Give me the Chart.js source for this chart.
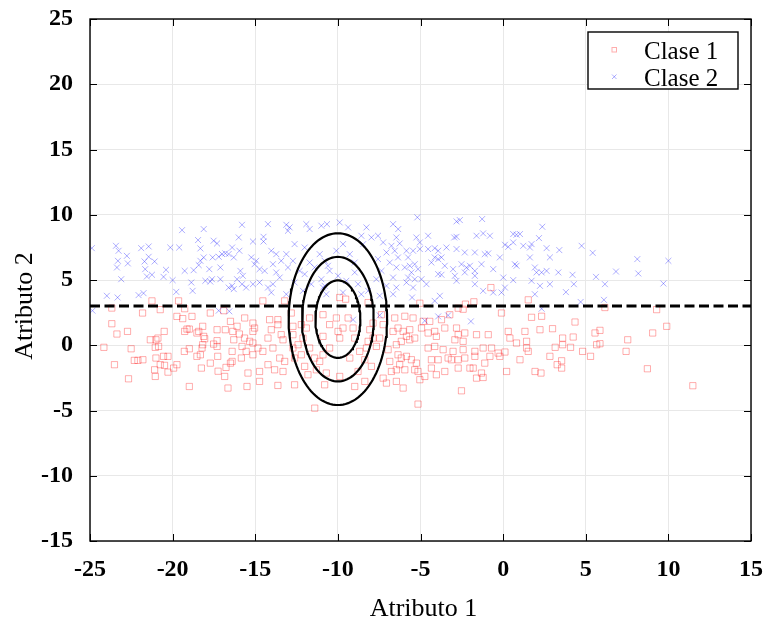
<!DOCTYPE html>
<html><head><meta charset="utf-8">
<script src="https://cdn.jsdelivr.net/npm/chart.js@4/dist/chart.umd.min.js"></script>
<style>html,body{margin:0;padding:0;background:#fff}#wrap{width:768px;height:623px}</style>
</head><body><div id="wrap"><canvas id="c" width="768" height="623"></canvas></div>
<script>
const seriesNames = ['Clase 1', 'Clase 2'];
const axisTitles = ['Atributo 1', 'Atributo 2'];
const xTicks = [-25, -20, -15, -10, -5, 0, 5, 10, 15];
const yTicks = [-15, -10, -5, 0, 5, 10, 15, 20, 25];
const thresholdY = 3;
const ellipseCenter = [-10, 2];
const ellipseRx = [1.36, 2.17, 2.98];
const ellipseRy = [2.97, 4.77, 6.58];

const class1Points = [
[-21.25,3.40],[-19.64,3.40],[-14.54,3.40],[-13.22,3.40],[-9.89,3.66],[-9.53,3.53],[-8.17,3.27],[-0.74,4.42],[-5.04,3.22],[-2.28,3.15],[-1.77,3.33],[1.52,3.48],[6.16,2.89],[9.29,2.73],[-2.72,2.84],[-2.42,2.76],
[-23.68,2.85],[-21.82,2.47],[-20.75,2.73],[-19.27,2.80],[-23.68,1.65],[-23.37,0.86],[-22.73,1.06],[-24.16,-0.16],[-22.51,-0.27],[-23.52,-1.49],[-22.32,-1.16],[-22.10,-1.16],[-21.80,-1.11],[-22.67,-2.57],[-21.35,0.42],[-21.01,0.42],[-21.05,-0.16],[-20.85,-0.09],[-20.89,0.55],[-21.01,-0.98],[-20.75,-1.49],[-21.09,-1.88],[-21.05,-2.39],[-20.55,-0.85],[-20.28,-0.85],[-20.49,-1.54],[-20.28,-2.06],[-19.94,-1.75],[-19.74,-1.49],[-20.51,1.06],[-19.74,2.21],[-19.39,2.04],[-18.83,2.21],[-19.27,1.06],[-19.13,1.24],[-18.99,1.24],[-19.29,-0.47],[-18.99,-0.27],[-18.99,-3.16],[-18.53,0.94],[-18.42,1.06],[-18.18,1.45],[-18.12,0.68],[-18.06,0.50],[-18.18,0.04],[-18.22,-0.21],[-18.32,-0.73],[-18.53,-0.85],[-18.26,-1.75],[-17.72,2.47],[-17.72,-1.37],[-17.52,0.09],[-17.31,0.35],[-17.31,-0.09],[-17.27,-0.85],[-17.25,-1.99],[-17.31,1.19],[-16.81,1.19],[-16.91,2.65],[-16.50,1.83],[-16.36,1.06],[-16.30,0.42],[-16.40,-0.47],[-16.40,-1.24],[-16.50,-1.37],[-16.77,-1.70],[-16.85,-2.39],[-16.65,-3.28],[-16.10,1.45],[-15.96,0.86],[-15.84,-0.98],[-15.64,2.09],[-15.50,-3.16],[-15.80,-0.09],
[-15.14,1.70],[-15.04,1.32],[-15.14,1.06],[-15.65,0.55],[-15.34,0.30],[-15.14,0.17],[-15.55,-0.47],[-15.14,-0.73],[-14.84,-0.21],[-14.54,-0.47],[-14.13,1.96],[-14.23,0.55],[-14.03,1.19],[-13.93,-0.21],[-13.63,1.96],[-13.63,1.58],[-13.43,0.81],[-13.32,0.42],[-13.52,-0.98],[-13.83,-1.88],[-14.23,-1.49],[-14.74,-2.01],[-15.44,-2.13],[-14.74,-2.77],[-13.63,-3.08],[-13.22,-1.24],[-13.32,-2.01],[-12.82,2.47],[-12.72,1.45],[-12.72,0.81],[-12.72,-0.21],[-12.62,-0.98],[-12.62,-3.03],[-12.21,1.58],[-12.11,0.55],[-12.21,-0.73],[-12.01,-1.62],[-11.71,2.09],[-11.71,-0.21],[-11.81,-2.26],[-11.41,-0.98],[-11.30,-1.88],[-10.90,2.34],[-10.90,0.68],[-10.80,-3.03],[-10.50,1.58],[-10.09,2.09],[-9.99,1.06],[-9.89,0.55],[-9.69,1.32],[-9.38,2.09],[-9.08,1.32],[-8.98,0.55],[-9.28,-0.98],[-9.89,-2.39],[-10.70,-2.13],[-11.40,-4.82],[-8.98,-3.16],[-8.68,-0.47],[-8.78,-2.01],[-8.27,-0.21],[-8.37,-1.11],[-8.37,-2.77],[-8.17,0.30],[-8.07,1.19],[-7.87,1.70],[-7.87,0.55],[-7.97,-1.62],[-7.67,-0.09],[-7.47,0.55],[-7.36,2.34],[-7.26,1.58],[-7.26,-2.52],[-6.96,-0.34],[-6.86,-1.24],[-6.76,-2.01],[-6.66,1.06],[-6.56,2.09],[-6.46,0.04],[-6.46,-2.77],[-7.06,-2.90],[-11.10,-1.24],[-11.91,1.32],[-12.41,0.04],[-10.90,-0.73],[-10.50,-0.21],
[-5.95,2.22],[-5.45,2.09],[-6.36,1.32],[-6.05,1.06],[-5.65,1.19],[-5.85,0.68],[-5.65,0.42],[-6.16,0.30],[-5.35,0.55],[-4.94,1.32],[-4.84,1.83],[-4.44,1.83],[-4.54,0.94],[-4.14,1.06],[-4.04,0.68],[-3.73,1.96],[-3.53,1.32],[-3.23,2.34],[-2.82,1.32],[-2.72,0.81],[-2.92,0.42],[-2.42,0.30],[-2.32,0.94],[-1.61,0.81],[-0.90,0.81],[-0.10,2.47],[0.31,1.06],[0.41,0.55],[0.81,0.17],[1.32,1.06],[1.42,0.30],[1.42,-0.21],[1.52,-0.47],[1.72,2.14],[2.23,1.19],[2.33,2.22],[-6.36,-0.73],[-6.16,-0.98],[-5.85,-0.85],[-5.55,-1.11],[-6.26,-1.49],[-6.46,-1.88],[-5.95,-1.88],[-5.25,-1.37],[-5.15,-2.01],[-5.04,-2.64],[-5.35,-1.88],[-4.74,-2.39],[-4.54,-0.21],[-4.34,-1.11],[-4.34,-1.75],[-4.14,-0.09],[-4.04,-2.26],[-3.93,-1.11],[-3.63,-0.34],[-3.53,-2.01],[-3.33,-0.98],[-3.13,-1.11],[-3.03,-0.47],[-2.72,-1.11],[-2.72,-1.75],[-2.42,-0.34],[-2.32,-0.98],[-2.01,-1.75],[-1.81,-1.75],[-1.71,-0.47],[-1.71,-0.85],[-1.61,-2.52],[-1.31,-2.13],[-1.21,-2.47],[-1.21,-0.21],[-1.11,-1.37],[-0.80,-0.85],[-0.70,-0.21],[-0.30,-0.60],[-0.20,-0.85],[0.11,-0.52],[0.21,-2.01],[1.02,-1.11],[1.93,-2.01],[2.29,-2.13],[-6.05,-3.28],[-2.52,-3.49],[-5.15,-4.51],
[4.35,1.78],[2.99,1.27],[3.60,0.55],[3.60,0.04],[4.24,0.63],[5.56,0.94],[5.86,1.14],[5.66,0.04],[5.86,0.12],[3.15,-0.16],[4.08,-0.16],[4.81,-0.47],[5.29,-0.85],[2.83,-0.85],[3.54,-1.19],[3.27,-1.49],[3.54,-1.75],[7.54,0.42],[7.44,-0.47],[9.05,0.94],[9.90,1.45],[8.73,-1.80],[11.48,-3.10]
];

const class2Points = [
[-19.43,8.82],[-18.12,8.90],[-15.80,9.23],[-24.89,7.44],[-23.43,7.62],[-23.27,7.24],[-22.77,6.85],[-23.31,6.47],[-22.71,6.27],[-23.37,5.96],[-23.11,5.06],[-21.90,7.44],[-21.45,7.57],[-21.45,6.78],[-21.70,6.42],[-21.09,6.42],[-21.66,5.83],[-21.56,5.27],[-21.25,5.40],[-20.55,5.24],[-20.40,5.78],[-20.14,7.49],[-19.60,7.49],[-20.00,4.99],[-19.78,4.09],[-19.27,5.70],[-18.87,4.81],[-18.79,4.17],[-18.73,5.75],[-18.46,8.06],[-18.32,7.42],[-18.32,6.47],[-18.42,6.14],[-18.12,6.73],[-18.02,4.94],[-17.72,4.88],[-17.78,5.83],[-17.52,8.01],[-17.58,6.73],[-17.31,7.80],[-17.21,6.78],[-17.11,5.96],[-17.01,6.99],[-16.81,7.04],[-16.61,6.99],[-16.40,7.49],[-16.30,6.73],[-16.00,8.26],[-15.96,7.24],[-15.90,5.70],[-16.10,5.06],[-16.40,4.55],[-16.61,4.42],[-16.30,4.30],[-17.11,5.06],[-17.62,5.06],[-23.98,3.79],[-23.33,3.66],[-22.06,3.84],[-21.76,3.99],[-15.80,4.68],[-24.85,2.65],[-16.57,2.60],[-17.21,2.65],
[-14.23,9.28],[-13.12,9.23],[-13.02,8.77],[-12.92,9.03],[-12.62,7.75],[-11.91,9.28],[-11.71,8.90],[-11.00,9.16],[-10.66,9.28],[-9.89,9.41],[-9.38,9.03],[-8.27,9.03],[-15.14,7.95],[-14.50,8.31],[-14.50,7.95],[-15.24,6.73],[-14.94,6.47],[-15.04,6.21],[-14.74,5.83],[-14.43,5.70],[-14.03,7.24],[-13.73,6.98],[-13.93,6.21],[-13.73,5.58],[-13.52,5.19],[-13.43,6.47],[-13.12,6.98],[-13.02,5.96],[-12.72,6.47],[-12.62,4.81],[-14.74,4.81],[-15.14,4.68],[-14.23,4.42],[-13.93,4.68],[-15.55,4.42],[-15.75,5.32],[-12.01,7.49],[-11.71,6.34],[-12.01,5.45],[-11.41,5.96],[-11.10,6.98],[-10.80,6.47],[-10.60,6.09],[-10.50,5.70],[-11.00,5.06],[-10.80,4.55],[-10.09,7.24],[-9.69,7.75],[-9.28,6.98],[-8.98,6.34],[-8.98,5.58],[-9.49,4.94],[-8.78,4.68],[-9.99,5.32],[-8.47,7.75],[-8.58,8.39],[-7.97,8.26],[-7.57,8.39],[-7.26,7.88],[-7.06,7.11],[-6.76,7.62],[-6.56,7.24],[-6.46,8.26],[-6.35,8.90],[-6.66,9.28],[-7.57,6.60],[-6.86,6.34],[-6.46,5.96],[-7.36,5.70],[-6.66,5.19],[-7.67,5.06],[-6.46,4.42],[-7.06,4.55],[-8.17,4.17],[-8.58,3.91],[-9.69,4.04],[-10.70,3.91],[-12.11,4.17],[-13.12,3.91],[-14.03,4.04],[-6.66,3.91],[-7.47,3.79],[-10.90,4.42],[-12.31,5.70],[-11.61,4.68],
[-5.19,9.80],[-2.82,9.49],[-2.62,9.59],[-1.27,9.67],[-6.26,7.80],[-5.25,8.26],[-5.04,7.88],[-4.54,8.39],[-2.96,8.26],[-2.82,8.31],[-1.61,8.39],[-1.21,8.57],[-0.80,8.39],[0.61,8.52],[0.81,8.47],[1.02,8.52],[2.17,8.21],[2.37,9.08],[0.11,7.70],[0.31,7.54],[0.61,7.88],[1.22,7.62],[1.62,7.49],[1.72,7.75],[2.63,7.44],[-5.85,7.24],[-5.75,6.73],[-5.45,7.24],[-5.04,7.37],[-4.54,7.37],[-4.14,7.44],[-3.93,7.24],[-3.43,7.49],[-2.82,7.37],[-2.32,7.11],[-1.71,7.11],[-1.11,6.98],[-0.90,7.04],[-0.20,6.73],[-6.36,6.73],[-5.95,5.96],[-5.65,6.09],[-5.35,6.21],[-5.15,5.83],[-5.55,5.58],[-5.75,5.19],[-5.35,5.06],[-5.85,4.81],[-5.45,4.42],[-4.14,6.73],[-3.93,6.60],[-3.73,6.73],[-4.34,6.34],[-3.53,6.09],[-3.03,5.83],[-2.52,6.21],[-2.22,5.96],[-2.01,6.09],[-1.71,5.70],[-1.31,6.21],[-0.60,5.83],[-3.93,5.45],[-3.73,5.40],[-2.92,5.32],[-2.82,4.94],[-2.32,5.58],[-1.71,5.32],[-1.71,4.68],[-4.64,4.68],[-4.94,5.06],[0.01,5.19],[0.11,4.42],[0.71,6.21],[0.81,6.09],[1.62,6.73],[1.92,5.96],[2.02,5.58],[2.33,5.58],[2.63,5.70],[2.83,4.68],[1.72,4.94],[2.23,4.55],[1.92,3.91],[0.61,4.99],[-5.51,3.66],[-3.83,3.79],[-4.14,3.40],[-1.21,4.17],[-0.60,4.04],[-0.10,4.04],
[-9.08,1.96],[-7.47,2.29],[-4.74,1.88],[-3.93,2.21],[-3.33,2.29],[-1.95,1.83],[2.33,2.80],
[2.83,6.73],[3.40,7.29],[4.75,7.62],[5.42,7.08],[3.34,5.58],[4.20,5.40],[4.28,4.68],[3.80,4.07],[5.62,5.24],[6.16,4.68],[6.83,5.65],[8.12,6.60],[8.18,5.50],[10.00,6.47],[9.70,4.73],[4.69,3.32],[6.10,3.48]
];

const RED = 'rgba(255,0,0,0.32)';
const BLUE = 'rgba(0,0,255,0.32)';
const SERIF = '"Liberation Serif", "DejaVu Serif", serif';

function ellipsePath(i) {
  const pts = [];
  for (let k = 0; k <= 120; k++) {
    const t = (k / 120) * 2 * Math.PI;
    pts.push({x: ellipseCenter[0] + ellipseRx[i] * Math.cos(t), y: ellipseCenter[1] + ellipseRy[i] * Math.sin(t)});
  }
  return pts;
}

const lineDatasets = ellipseRx.map((_, i) => ({
  type: 'line', label: 'contour' + i, data: ellipsePath(i), borderColor: '#000', borderWidth: 2.2,
  pointRadius: 0, tension: 0, fill: false, order: 0
}));
lineDatasets.push({
  type: 'line', label: 'threshold', data: [{x: xTicks[0], y: thresholdY}, {x: xTicks[xTicks.length - 1], y: thresholdY}],
  borderColor: '#000', borderWidth: 3, borderDash: [10, 4.5], pointRadius: 0, fill: false, order: 0
});

const framePlugin = {
  id: 'frameAndLegend',
  afterDraw(chart) {
    const {ctx, chartArea: a, scales: {x, y}} = chart;
    ctx.save();
    ctx.strokeStyle = '#000';
    ctx.lineWidth = 1;
    ctx.beginPath();
    xTicks.forEach(v => {
      const px = Math.round(x.getPixelForValue(v)) + 0.5;
      ctx.moveTo(px, a.bottom); ctx.lineTo(px, a.bottom - 7);
      ctx.moveTo(px, a.top); ctx.lineTo(px, a.top + 7);
    });
    yTicks.forEach(v => {
      const py = Math.round(y.getPixelForValue(v)) + 0.5;
      ctx.moveTo(a.left, py); ctx.lineTo(a.left + 7, py);
      ctx.moveTo(a.right, py); ctx.lineTo(a.right - 7, py);
    });
    ctx.stroke();
    ctx.lineWidth = 1.4;
    ctx.strokeRect(a.left, a.top, a.right - a.left, a.bottom - a.top);

    // axis titles
    ctx.fillStyle = '#000';
    ctx.font = '26px ' + SERIF;
    ctx.textAlign = 'center';
    ctx.textBaseline = 'alphabetic';
    ctx.fillText(axisTitles[0], (a.left + a.right) / 2 + 3, 616);
    ctx.save();
    ctx.translate(32, 306);
    ctx.rotate(-Math.PI / 2);
    ctx.fillText(axisTitles[1], 0, 0);
    ctx.restore();

    // legend
    const bw = 150, bh = 57;
    const bx = a.right - 13 - bw, by = a.top + 13;
    ctx.fillStyle = '#fff';
    ctx.fillRect(bx, by, bw, bh);
    ctx.lineWidth = 1.4;
    ctx.strokeStyle = '#000';
    ctx.strokeRect(bx, by, bw, bh);
    ctx.font = '25px ' + SERIF;
    ctx.textAlign = 'left';
    ctx.fillStyle = '#000';
    const rows = [by + 26.5, by + 54];
    const mk = [by + 17.5, by + 44.5];
    ctx.lineWidth = 1;
    ctx.strokeStyle = RED;
    ctx.strokeRect(bx + 24, mk[0] - 2, 4.5, 4.5);
    ctx.strokeStyle = BLUE;
    ctx.beginPath();
    ctx.moveTo(bx + 24, mk[1] - 2); ctx.lineTo(bx + 28.5, mk[1] + 2.5);
    ctx.moveTo(bx + 28.5, mk[1] - 2); ctx.lineTo(bx + 24, mk[1] + 2.5);
    ctx.stroke();
    ctx.fillText(seriesNames[0], bx + 56, rows[0]);
    ctx.fillText(seriesNames[1], bx + 56, rows[1]);
    ctx.restore();
  }
};

new Chart(document.getElementById('c'), {
  type: 'scatter',
  data: {
    datasets: [
      ...lineDatasets,
      {label: seriesNames[1], data: class2Points.map(p => ({x: p[0], y: p[1]})), pointStyle: 'crossRot',
       pointRadius: 4.2, pointHoverRadius: 4.2, borderColor: BLUE, backgroundColor: BLUE, borderWidth: 1, order: 1},
      {label: seriesNames[0], data: class1Points.map(p => ({x: p[0], y: p[1]})), pointStyle: 'rect',
       pointRadius: 4.4, pointHoverRadius: 4.4, borderColor: RED, backgroundColor: 'rgba(0,0,0,0)', borderWidth: 1, order: 2}
    ]
  },
  options: {
    responsive: false, animation: false, devicePixelRatio: 1,
    layout: {padding: {left: 0, right: 17, top: 19, bottom: 0}},
    plugins: {legend: {display: false}, tooltip: {enabled: false}},
    scales: {
      x: {
        type: 'linear', min: -25, max: 15,
        afterFit: s => { s.height = 82; s.paddingLeft = 0; s.paddingRight = 0; },
        afterBuildTicks: s => { s.ticks = xTicks.map(v => ({value: v})); },
        ticks: {font: {family: SERIF, size: 24, weight: 'bold'}, color: '#000', padding: 14},
        grid: {color: '#e8e8e8', lineWidth: 1, drawTicks: false},
        border: {display: false}
      },
      y: {
        type: 'linear', min: -15, max: 25,
        afterFit: s => { s.width = 90; s.paddingTop = 0; s.paddingBottom = 0; },
        afterBuildTicks: s => { s.ticks = yTicks.map(v => ({value: v})); },
        ticks: {font: {family: SERIF, size: 24, weight: 'bold'}, color: '#000', padding: 17},
        grid: {color: '#e8e8e8', lineWidth: 1, drawTicks: false},
        border: {display: false}
      }
    }
  },
  plugins: [framePlugin]
});
</script>
</body></html>
